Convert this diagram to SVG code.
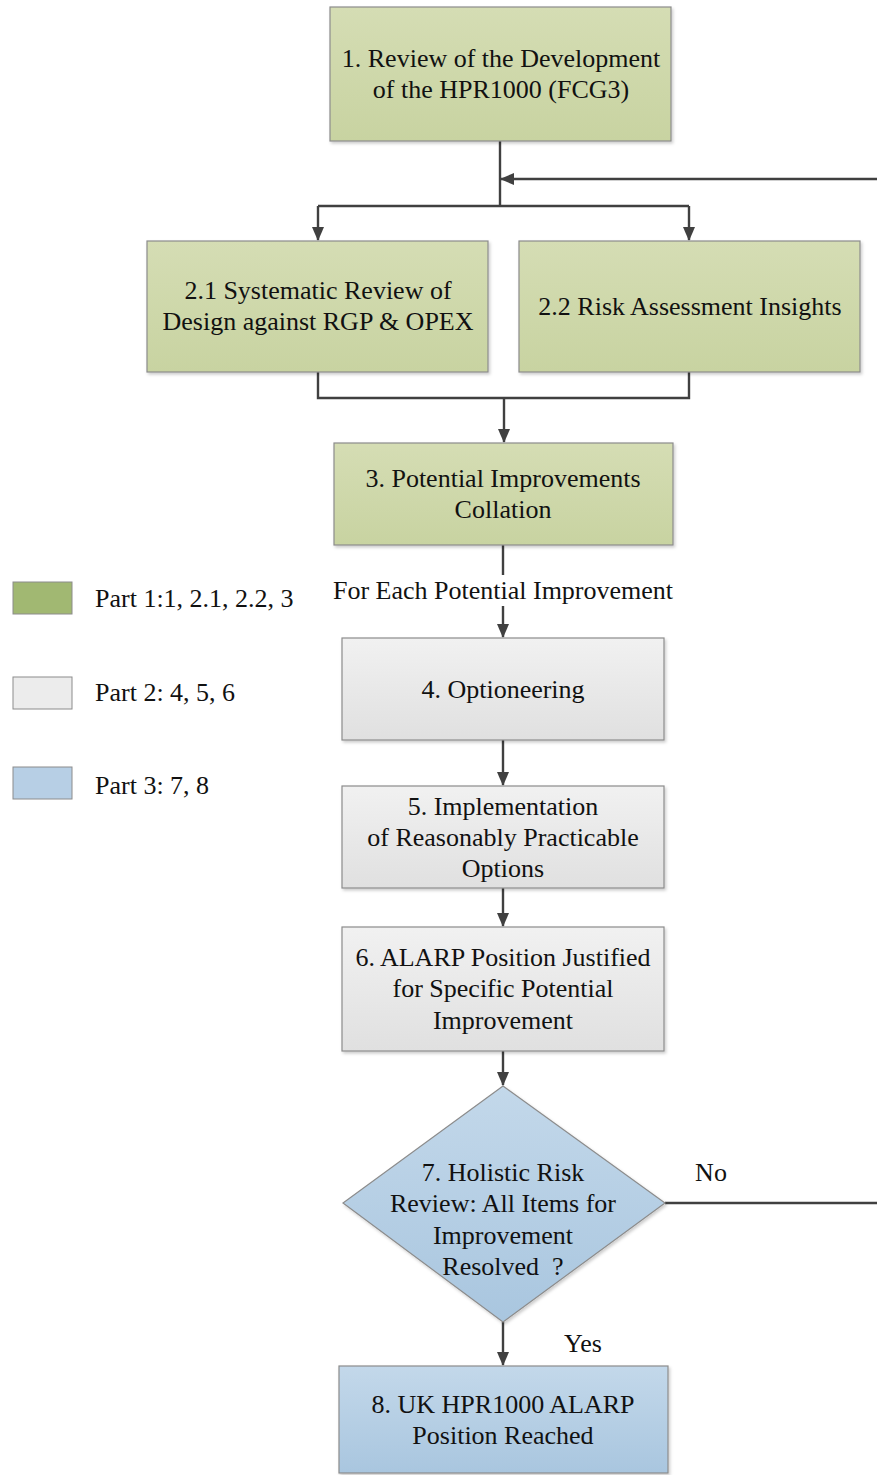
<svg xmlns="http://www.w3.org/2000/svg" width="877" height="1475" viewBox="0 0 877 1475">
<style>
text{font-family:"Liberation Serif","Times New Roman",serif;font-size:26px;fill:#111;text-anchor:middle}
.lg{text-anchor:start}
.box{stroke:#8c8c8c;stroke-width:1.2}
.g{fill:url(#gg)}
.w{fill:url(#gw)}
.b{fill:url(#gb)}
.c{fill:none;stroke:#404040;stroke-width:2.4}
</style>
<defs>
<linearGradient id="gg" x1="0" y1="0" x2="0" y2="1"><stop offset="0" stop-color="#d5ddb4"/><stop offset="1" stop-color="#c8d3a1"/></linearGradient>
<linearGradient id="gw" x1="0" y1="0" x2="0" y2="1"><stop offset="0" stop-color="#f1f1f1"/><stop offset="1" stop-color="#e0e0e0"/></linearGradient>
<linearGradient id="gb" x1="0" y1="0" x2="0" y2="1"><stop offset="0" stop-color="#c3d8ea"/><stop offset="1" stop-color="#a9c6df"/></linearGradient>
<filter id="sh" x="-5%" y="-5%" width="110%" height="115%"><feDropShadow dx="1.5" dy="2" stdDeviation="1.5" flood-color="#000" flood-opacity="0.2"/></filter>
<marker id="ar" markerWidth="14" markerHeight="14" refX="13" refY="7" orient="auto" markerUnits="userSpaceOnUse"><path d="M0,1 L14,7 L0,13 Z" fill="#404040"/></marker>
</defs>

<g id="connectors">
<path class="c" d="M500,141 V206"/>
<path class="c" d="M877,179 H501" marker-end="url(#ar)"/>
<path class="c" d="M318,206 H689"/>
<path class="c" d="M318,206 V240" marker-end="url(#ar)"/>
<path class="c" d="M689,206 V240" marker-end="url(#ar)"/>
<path class="c" d="M318,372 V398 H689 V372"/>
<path class="c" d="M504,398 V442" marker-end="url(#ar)"/>
<path class="c" d="M503,545 V575"/>
<path class="c" d="M503,606 V637" marker-end="url(#ar)"/>
<path class="c" d="M503,740 V785" marker-end="url(#ar)"/>
<path class="c" d="M503,888 V926" marker-end="url(#ar)"/>
<path class="c" d="M503,1051 V1085" marker-end="url(#ar)"/>
<path class="c" d="M665,1203 H877"/>
<path class="c" d="M503,1322 V1365" marker-end="url(#ar)"/>
<text x="503" y="599">For Each Potential Improvement</text>
<text x="711" y="1181">No</text>
<text x="583" y="1352">Yes</text>
</g>

<g id="n1"><rect class="box g" x="330" y="7" width="341" height="134" filter="url(#sh)"/>
<text x="501" y="67">1. Review of the Development</text><text x="501" y="98">of the HPR1000 (FCG3)</text></g>

<g id="n21"><rect class="box g" x="147" y="241" width="341" height="131" filter="url(#sh)"/>
<text x="318" y="299">2.1 Systematic Review of</text><text x="318" y="330">Design against RGP &amp; OPEX</text></g>

<g id="n22"><rect class="box g" x="519" y="241" width="341" height="131" filter="url(#sh)"/>
<text x="690" y="315">2.2 Risk Assessment Insights</text></g>

<g id="n3"><rect class="box g" x="334" y="443" width="339" height="102" filter="url(#sh)"/>
<text x="503" y="487">3. Potential Improvements</text><text x="503" y="518">Collation</text></g>

<g id="n4"><rect class="box w" x="342" y="638" width="322" height="102" filter="url(#sh)"/>
<text x="503" y="698">4. Optioneering</text></g>

<g id="n5"><rect class="box w" x="342" y="786" width="322" height="102" filter="url(#sh)"/>
<text x="503" y="815">5. Implementation</text><text x="503" y="846">of Reasonably Practicable</text><text x="503" y="877">Options</text></g>

<g id="n6"><rect class="box w" x="342" y="927" width="322" height="124" filter="url(#sh)"/>
<text x="503" y="966">6. ALARP Position Justified</text><text x="503" y="997">for Specific Potential</text><text x="503" y="1029">Improvement</text></g>

<g id="n7"><path class="box b" d="M503,1086 L665,1203 L503,1322 L343,1203 Z" filter="url(#sh)"/>
<text x="503" y="1181">7. Holistic Risk</text><text x="503" y="1212">Review: All Items for</text><text x="503" y="1244">Improvement</text><text x="503" y="1275">Resolved&#160; ?</text></g>

<g id="n8"><rect class="box b" x="339" y="1366" width="329" height="107" filter="url(#sh)"/>
<text x="503" y="1413">8. UK HPR1000 ALARP</text><text x="503" y="1444">Position Reached</text></g>

<g id="legend">
<rect x="13" y="582" width="59" height="32" fill="#a1b872" stroke="#8c8c8c" stroke-width="1"/>
<text class="lg" x="95" y="607">Part 1:1, 2.1, 2.2, 3</text>
<rect x="13" y="677" width="59" height="32" fill="#ececec" stroke="#8c8c8c" stroke-width="1"/>
<text class="lg" x="95" y="701">Part 2: 4, 5, 6</text>
<rect x="13" y="767" width="59" height="32" fill="#b7cfe5" stroke="#8c8c8c" stroke-width="1"/>
<text class="lg" x="95" y="794">Part 3: 7, 8</text>
</g>
</svg>
